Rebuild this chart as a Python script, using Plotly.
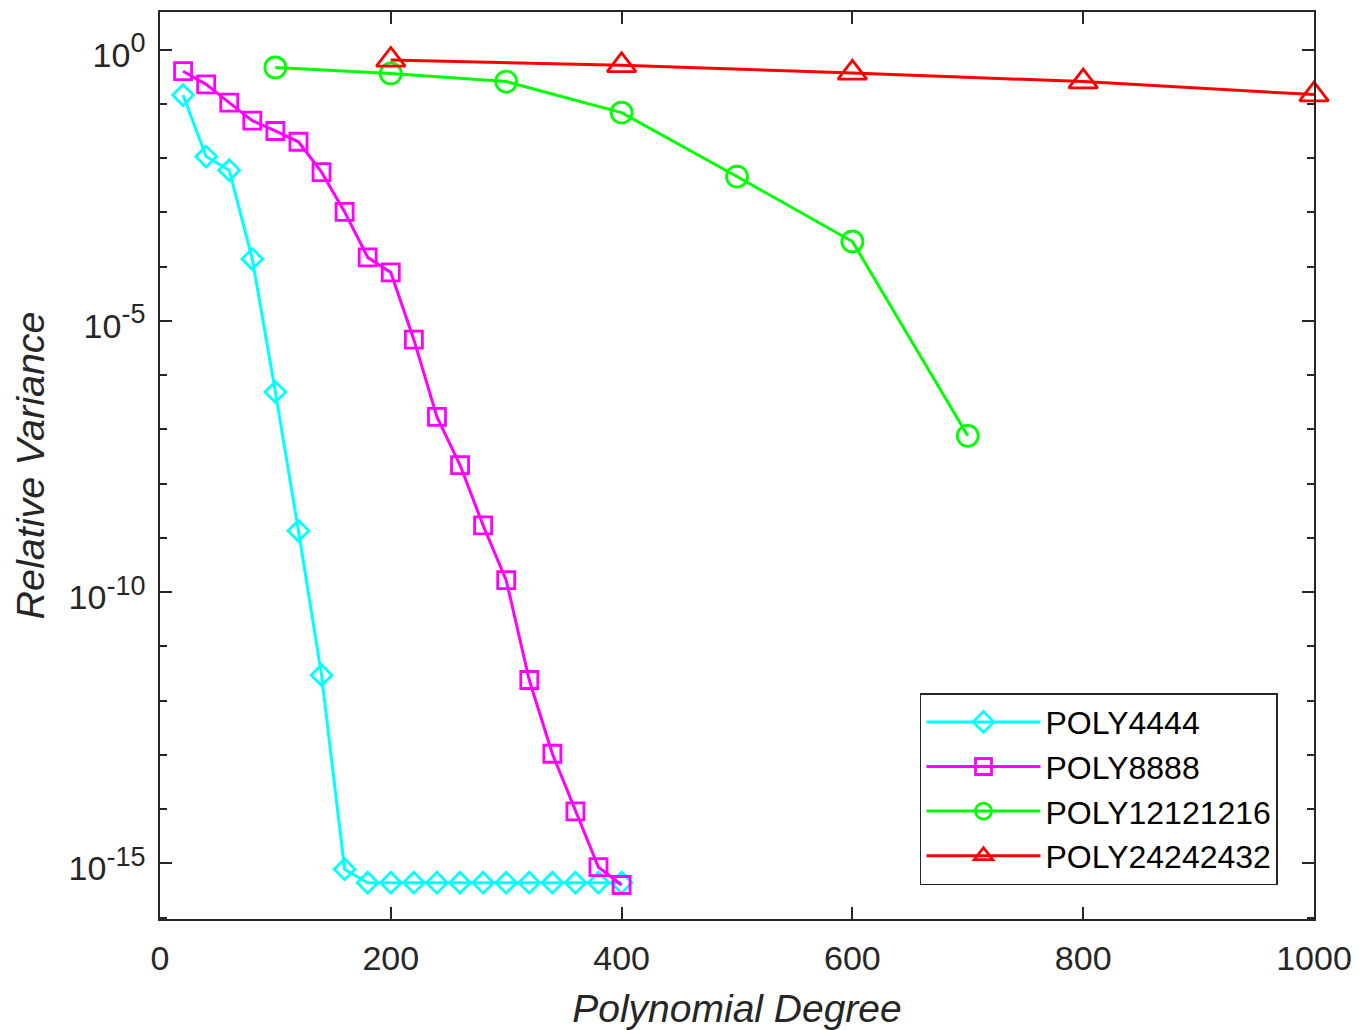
import plotly.graph_objects as go

# ---- data ----
deg_4444 = [20, 40, 60, 80, 100, 120, 140, 160, 180, 200, 220, 240, 260, 280, 300, 320, 340, 360, 380, 400]
var_4444 = [1.45e-1, 1.07e-2, 6.0e-3, 1.38e-4, 4.9e-7, 1.35e-9, 2.95e-12, 7.8e-16,
            4.4e-16, 4.4e-16, 4.4e-16, 4.4e-16, 4.4e-16, 4.4e-16, 4.4e-16, 4.4e-16,
            4.4e-16, 4.4e-16, 4.4e-16, 4.4e-16]

deg_8888 = [20, 40, 60, 80, 100, 120, 140, 160, 180, 200, 220, 240, 260, 280, 300, 320, 340, 360, 380, 400]
var_8888 = [0.40, 0.229, 0.105, 0.049, 0.0316, 0.020, 5.5e-3, 1.02e-3, 1.48e-4, 7.8e-5,
            4.5e-6, 1.7e-7, 2.2e-8, 1.7e-9, 1.66e-10, 2.4e-12, 1.05e-13, 9.1e-15, 8.5e-16, 4.0e-16]

deg_12121216 = [100, 200, 300, 400, 500, 600, 700]
var_12121216 = [0.468, 0.363, 0.257, 0.069, 4.57e-3, 2.9e-4, 7.6e-8]

deg_24242432 = [200, 400, 600, 800, 1000]
var_24242432 = [0.645, 0.513, 0.372, 0.257, 0.148]

x_ticks = [0, 200, 400, 600, 800, 1000]
y_major = [1e0, 1e-5, 1e-10, 1e-15]
y_major_exp = ["0", "-5", "-10", "-15"]
y_minor = [10.0 ** (-k) for k in range(0, 17)]

FONT = "Liberation Sans, Arial, Helvetica, sans-serif"
AX = "#262626"

y_major_text = ["10<sup><span style='font-size:27px'>%s</span></sup>" % e for e in y_major_exp]

series = [
    ("POLY4444", deg_4444, var_4444, "#00FFFF", "diamond-open", 16),
    ("POLY8888", deg_8888, var_8888, "#FF00FF", "square-open", 17),
    ("POLY12121216", deg_12121216, var_12121216, "#00FF00", "circle-open", 21),
    ("POLY24242432", deg_24242432, var_24242432, "#FF0000", "triangle-up-open", 25),
]

fig = go.Figure()
for name, x, y, col, sym, sz in series:
    fig.add_trace(go.Scatter(
        x=x, y=y, name=name, mode="lines+markers",
        line=dict(color=col, width=3),
        marker=dict(symbol=sym, size=sz, color=col, line=dict(color=col, width=2.8)),
        cliponaxis=False,
    ))

# page body has an 8px margin; size the figure so the plot area lands where the reference has it
fig.update_layout(
    width=1352, height=1022,
    margin=dict(l=152, r=46, t=2, b=111),
    paper_bgcolor="white", plot_bgcolor="white",
    font=dict(family=FONT, color=AX, size=32),
    showlegend=True,
    legend=dict(
        x=0.9688, y=0.0374, xanchor="right", yanchor="bottom",
        bgcolor="white", bordercolor=AX, borderwidth=1.5,
        font=dict(family=FONT, size=32, color="#000000"),
        itemwidth=114, tracegroupgap=0,
    ),
    xaxis=dict(
        range=[0, 1000], tickvals=x_ticks, ticktext=[str(v) for v in x_ticks],
        ticks="inside", ticklen=12, tickwidth=1.5, tickcolor=AX,
        showline=True, linecolor=AX, linewidth=1.5, mirror="ticks",
        showgrid=False, zeroline=False, ticklabelstandoff=8,
        tickfont=dict(size=34, color=AX, family=FONT),
        title=dict(text="<i>Polynomial Degree</i>", font=dict(size=39, color=AX, family=FONT), standoff=22),
    ),
    yaxis=dict(
        type="log", range=[-16.025, 0.693],
        tickvals=y_major, ticktext=y_major_text,
        ticks="inside", ticklen=12, tickwidth=1.5, tickcolor=AX,
        minor=dict(tickvals=y_minor, ticks="inside", ticklen=7, tickwidth=1.5, tickcolor=AX, showgrid=False),
        showline=True, linecolor=AX, linewidth=1.5, mirror="ticks",
        showgrid=False, zeroline=False, ticklabelstandoff=6, ticklabelshift=5,
        tickfont=dict(size=34, color=AX, family=FONT),
        title=dict(text="<i>Relative Variance</i>", font=dict(size=39.5, color=AX, family=FONT), standoff=24),
    ),
)

fig.write_html("out.html", config={"displayModeBar": False})
